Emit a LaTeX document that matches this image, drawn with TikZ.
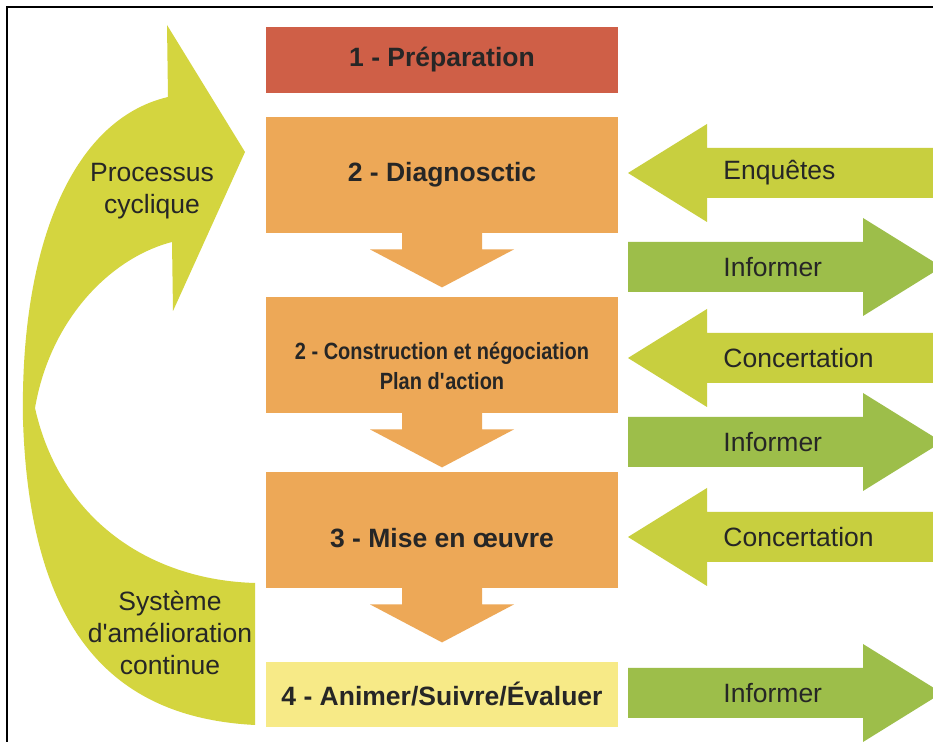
\documentclass[tikz,border=0pt]{standalone}
\usepackage{fontspec}
\setmainfont{Liberation Sans}
\newfontfamily\condensedfont[FakeStretch=0.85]{Liberation Sans}
\usetikzlibrary{calc}

\definecolor{rouge}{HTML}{CF5F47}
\definecolor{orangebox}{HTML}{EDA857}
\definecolor{jaunebox}{HTML}{F7EA87}
\definecolor{cyclecol}{HTML}{D4D53F}
\definecolor{flecheG}{HTML}{C8CF3F}
\definecolor{flecheD}{HTML}{9DBE4A}

\begin{document}
\begin{tikzpicture}[x=0.5pt,y=-0.5pt,
  etape/.style={rectangle,inner sep=0pt,minimum width=176pt,text=black!85,font=\fontsize{13.25}{15}\selectfont\bfseries},
  texte/.style={text=black!85,font=\fontsize{13.25}{16}\selectfont,align=center,inner sep=0pt}]
\useasboundingbox (0,0) rectangle (933,742);
\clip (0,0) rectangle (933,742);
\fill[white] (0,0) rectangle (933,742);
\draw[line width=1pt] (7,760) -- (7,7) -- (950,7);

% fleche du cycle
\fill[cyclecol] (255,725) .. controls (120,718) and (30,640) .. (23,420)
  .. controls (20,250) and (70,120) .. (168,97)
  -- (167,25) -- (245,152) -- (173,311) -- (172,242)
  .. controls (110,258) and (50,320) .. (35,408)
  .. controls (60,520) and (150,580) .. (255,583) -- cycle;
\node[texte] (cyclique) at (152,191) {Processus\\cyclique};
\node[texte] (amelioration) at (170,633) {Système\\d\textquotesingle amélioration\\continue};

% etapes
\node[etape,fill=rouge,minimum height=33pt] (prep) at (442,60) {1 - Préparation};
\node[etape,fill=orangebox,minimum height=58pt] (diag) at (442,175) {2 - Diagnosctic};
\node[etape,fill=orangebox,minimum height=58pt] (constr) at (442,355) {};
\node[etape,fill=orangebox,minimum height=58pt] (oeuvre) at (442,530) {};
\node[etape,fill=jaunebox,minimum height=32.5pt] (animer) at (442,694.5) {4 - Animer/Suivre/Évaluer};
\node[texte,font=\fontsize{11.75}{15}\selectfont\condensedfont\bfseries] (constr-txt) at (442,366) {2 - Construction et négociation\\Plan d\textquotesingle action};
\node[texte,font=\fontsize{13.25}{15}\selectfont\bfseries] (oeuvre-txt) at (442,538) {3 - Mise en œuvre};

\foreach \haut in {diag,constr,oeuvre} {
  \fill[orangebox] ($(\haut.south)+(-40,-1)$) -- ($(\haut.south)+(-40,16)$) -- ($(\haut.south)+(-72,16)$)
    -- ($(\haut.south)+(0,54)$) -- ($(\haut.south)+(72,16)$) -- ($(\haut.south)+(40,16)$)
    -- ($(\haut.south)+(40,-1)$) -- cycle;
}

% fleches laterales
\foreach \y/\txt [count=\i] in {173/Enquêtes,358/Concertation,537/Concertation} {
  \fill[flecheG] (628,\y) -- (707,\y-49) -- (707,\y-25) -- (945,\y-25) -- (945,\y+25)
    -- (707,\y+25) -- (707,\y+49) -- cycle;
  \node[texte,anchor=west] (entree\i) at (723,\y) {\txt};
}
\foreach \y [count=\i] in {267,442,693} {
  \fill[flecheD] (628,\y-25) -- (863,\y-25) -- (863,\y-49) -- (942,\y) -- (863,\y+49)
    -- (863,\y+25) -- (628,\y+25) -- cycle;
  \node[texte,anchor=west] (sortie\i) at (723,\y) {Informer};
}

\end{tikzpicture}
\end{document}
